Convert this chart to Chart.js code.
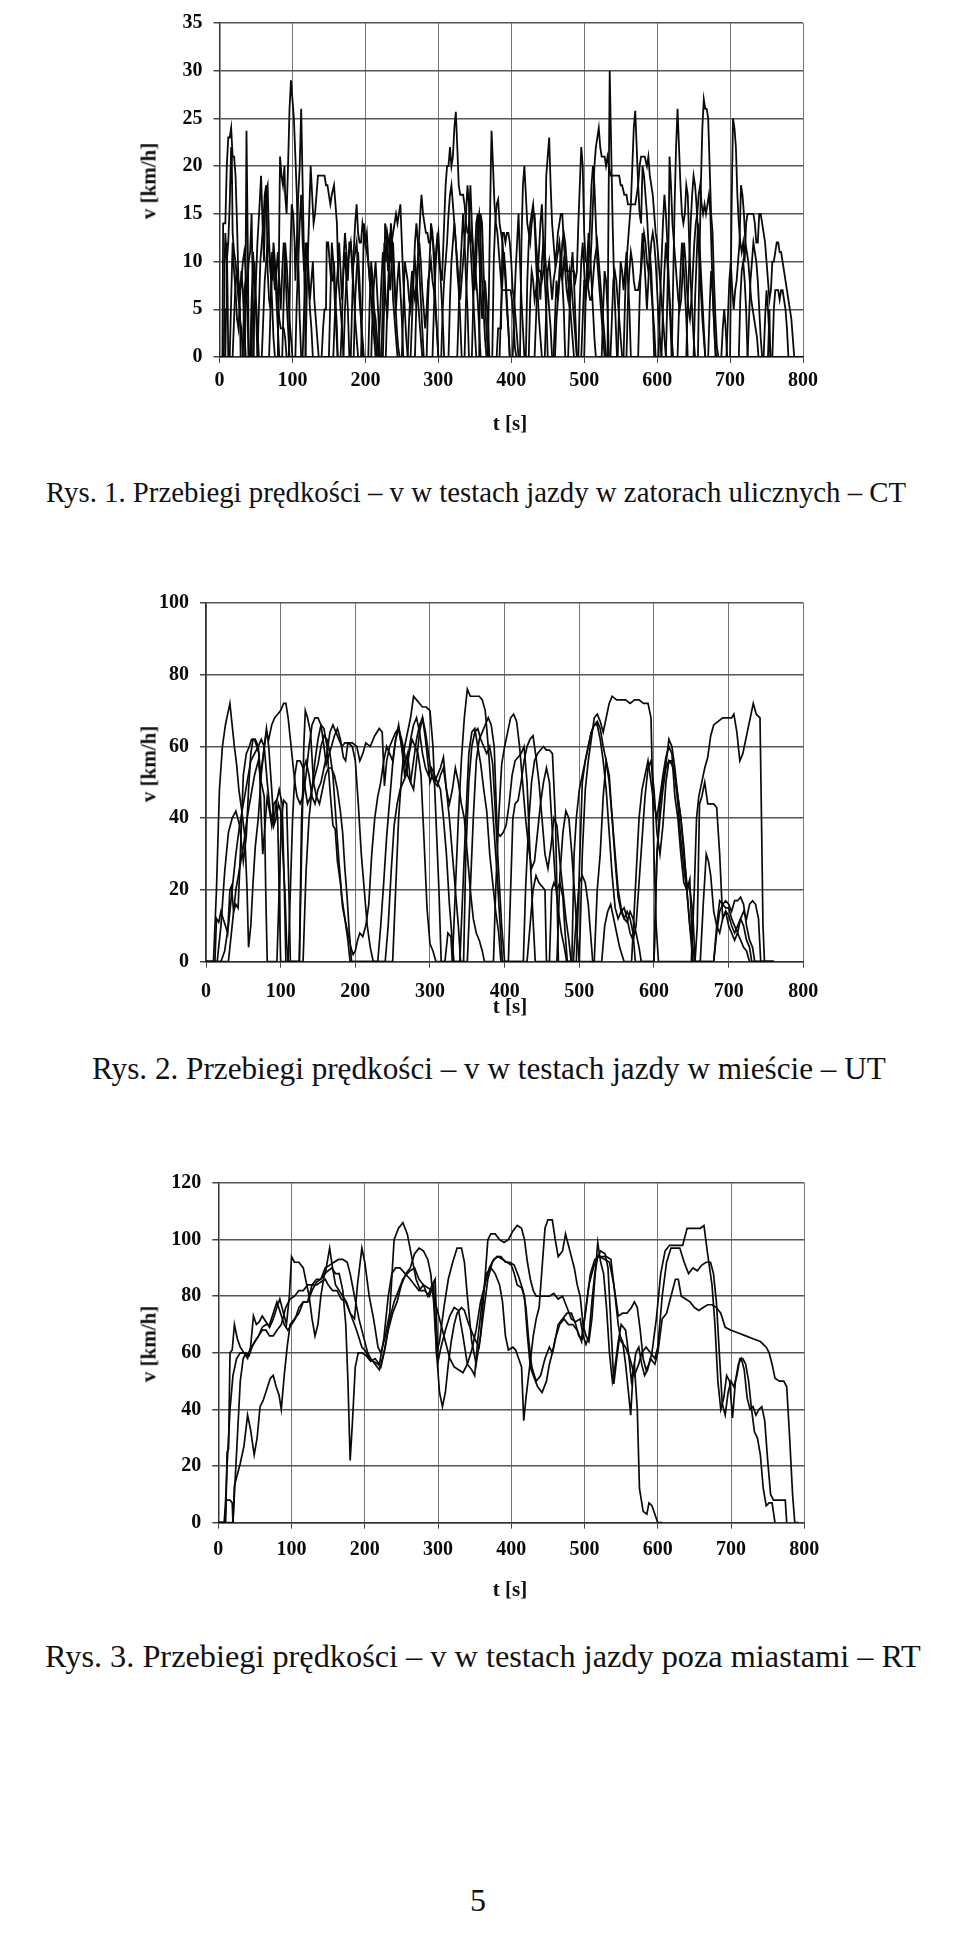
<!DOCTYPE html>
<html lang="pl">
<head>
<meta charset="utf-8">
<title>Przebiegi prędkości</title>
<script src="https://cdn.jsdelivr.net/npm/chart.js@4.4.1/dist/chart.umd.min.js"></script>
<style>
  html, body { margin: 0; padding: 0; background: #fff; }
  body {
    position: relative;
    width: 960px;
    height: 1946px;
    overflow: hidden;
    font-family: 'Liberation Serif', 'Times New Roman', serif;
    color: #111;
  }
  canvas { position: absolute; left: 0; }
  .title { position: absolute; white-space: nowrap; font-weight: bold; font-size: 21px; line-height: 1; }
  .ytitle { transform: translate(-50%, -50%) rotate(-90deg); }
  .xtitle { transform: translate(-50%, -50%); }
  .caption { position: absolute; white-space: nowrap; line-height: 1; transform: translateY(-50%); }
</style>
</head>
<body>
<canvas id="ct"></canvas>
<canvas id="ut"></canvas>
<canvas id="rt"></canvas>

<div class="title ytitle" style="left:149px; top:181px">v [km/h]</div>
<div class="title xtitle" style="left:510px; top:423px">t [s]</div>
<div class="caption" style="left:46px; top:492px; font-size:28.8px">Rys. 1. Przebiegi prędkości – v w testach jazdy w zatorach ulicznych – CT</div>

<div class="title ytitle" style="left:149px; top:764px">v [km/h]</div>
<div class="title xtitle" style="left:510px; top:1006px">t [s]</div>
<div class="caption" style="left:92px; top:1069px; font-size:31.2px">Rys. 2. Przebiegi prędkości – v w testach jazdy w mieście – UT</div>

<div class="title ytitle" style="left:149px; top:1344px">v [km/h]</div>
<div class="title xtitle" style="left:510px; top:1589px">t [s]</div>
<div class="caption" style="left:45px; top:1656px; font-size:32.3px">Rys. 3. Przebiegi prędkości – v w testach jazdy poza miastami – RT</div>

<div class="caption" style="left:470px; top:1900px; font-size:32px">5</div>

<script>
// czas [s], prędkość [km/h]

// Rys. 1 – zatory uliczne (CT)
const ctRun1 = [[0,0],[4,0],[5,14],[8,14],[10,20],[12,23],[14,23],[16,24],[18,21],[20,21],[22,19],[24,14],[26,8],[28,4],[30,3],[32,0],[35,0],[37,23.7],[39,10],[40,0],[46,0],[48,5],[50,8],[52,12],[55,16],[57,19],[59,14],[61,10],[63,17],[66,18],[68,12],[70,9],[72,6],[74,2],[76,0],[80,0],[82,14],[83,21],[85,19],[87,18],[89,20],[90,17],[92,15],[94,20],[96,26],[98,29],[100,27],[102,25],[104,21],[106,17],[108,10],[110,4],[112,0],[118,0],[120,8],[123,15],[125,20],[127,17],[129,14],[131,15],[133,17],[135,19],[138,19],[141,19],[144,19],[146,18],[148,18],[150,17],[152,16],[154,17],[157,18],[159,16],[161,14],[163,8],[166,5],[168,3],[170,0],[180,0],[182,6],[184,11],[186,14],[188,16],[190,13],[192,12],[194,12],[196,14],[198,13],[200,12],[202,11],[204,10],[206,8],[208,9],[210,6],[212,4],[214,2],[216,0],[222,0],[224,6],[226,12],[228,10],[230,13],[232,12],[234,10],[236,12],[238,13],[240,14],[242,15],[244,14],[246,15],[248,16],[250,12],[252,8],[254,5],[256,2],[258,0],[268,0],[270,6],[272,10],[274,13],[276,16],[277,17],[279,15],[281,14],[283,13],[285,13],[287,12],[289,12],[291,13],[293,12],[295,10],[297,11],[299,13],[301,10],[303,9],[305,8],[308,14],[310,18],[312,20],[314,20],[316,22],[318,20],[320,21],[322,24],[324,25.7],[326,22],[328,18],[330,17],[332,17],[334,17],[336,16],[338,14],[340,13],[342,13],[344,12],[346,13],[348,11],[350,10],[352,8],[354,6],[356,3],[358,0],[368,0],[370,10],[372,20],[373,23.7],[375,20],[377,16],[379,14],[381,13],[383,11],[385,9],[387,7],[390,7],[393,7],[396,7],[399,7],[401,6],[403,4],[405,1],[407,0],[412,0],[414,12],[416,18],[418,20],[420,17],[422,14],[424,13],[426,12],[428,14],[430,15],[432,15],[434,12],[436,10],[438,9],[440,9],[442,8],[444,9],[446,10],[448,19],[450,21],[452,23],[454,18],[456,14],[458,12],[460,10],[462,11],[464,13],[466,14],[468,15],[470,15],[472,12],[474,10],[476,9],[480,9],[484,9],[486,9],[488,8],[490,9],[492,14],[494,18],[496,22],[498,20],[500,13],[502,10],[504,10],[506,8],[508,9],[510,12],[512,16],[514,20],[516,22],[518,23],[520,24],[522,22],[524,21],[526,21],[528,21],[530,20],[532,21],[534,20],[536,19],[540,19],[544,19],[548,19],[550,18],[552,18],[555,17],[558,17],[560,16],[564,16],[568,16],[570,16],[572,17],[574,18],[576,20],[578,21],[580,21],[583,21],[586,20],[588,21],[590,19],[592,18],[594,17],[596,15],[598,13],[600,12],[602,10],[604,8],[606,6],[608,4],[610,2],[612,0],[620,0],[622,8],[624,16],[626,22],[628,26],[630,22],[632,18],[634,15],[636,14],[638,15],[640,18],[642,17],[644,12],[646,8],[648,5],[650,2],[652,0],[656,0],[658,10],[660,18],[662,24],[664,27],[666,26],[668,26],[670,25],[672,20],[674,15],[676,13],[678,8],[680,4],[682,1],[684,0],[700,0],[702,15],[704,25],[706,24],[708,22],[710,17],[712,14],[714,12],[716,11],[718,12],[720,10],[722,14],[724,15],[726,15],[730,15],[732,15],[734,14],[736,12],[738,12],[740,15],[742,15],[744,14],[746,13],[748,12],[750,10],[752,8],[754,6],[756,7],[758,10],[760,10],[762,11],[764,12],[766,12],[768,11],[770,11],[772,10],[774,9],[776,8],[778,7],[780,6],[782,5],[784,4],[786,2],[788,0],[800,0]]
const ctRun2 = [[0,0],[6,0],[7,10],[8,13],[10,10],[12,12],[14,16],[16,22],[17,20],[18,13],[20,11],[22,10],[24,8],[26,6],[28,5],[29,0],[32,0],[34,7],[36,8],[38,7],[40,10],[42,11],[44,15],[45,10],[46,5],[47,0],[52,0],[54,5],[56,10],[58,12],[60,14],[62,17],[64,18],[65,14],[66,9],[68,6],[70,5],[72,9],[74,10],[76,9],[78,8],[80,6],[82,4],[84,3],[86,3],[88,3],[90,2],[92,0],[95,0],[97,10],[99,16],[101,15],[103,12],[104,8],[106,12],[108,17],[110,20],[112,26],[114,18],[116,10],[117,5],[118,0],[140,0],[142,3],[144,5],[146,5],[147,12],[149,12],[151,10],[153,8],[155,8],[157,10],[159,6],[161,3],[162,0],[166,0],[168,4],[170,10],[172,13],[174,11],[176,8],[178,12],[180,12],[182,9],[184,10],[186,11],[188,12],[190,9],[192,6],[194,4],[196,2],[198,0],[204,0],[206,6],[208,10],[210,8],[212,5],[214,4],[216,2],[218,0],[224,0],[226,6],[227,14],[229,13],[231,9],[233,11],[235,14],[237,12],[239,9],[241,6],[243,3],[245,1],[247,0],[258,0],[260,4],[262,7],[264,9],[266,7],[268,6],[270,8],[272,10],[274,12],[276,10],[278,7],[280,5],[282,3],[284,5],[286,8],[288,9],[290,10],[292,8],[294,7],[296,5],[298,3],[300,0],[304,0],[306,5],[308,8],[310,10],[312,12],[314,15],[316,17],[318,18],[320,16],[322,14],[324,12],[326,10],[328,8],[330,6],[332,8],[334,10],[336,12],[338,15],[340,18],[342,16],[344,12],[346,9],[348,6],[350,3],[352,0],[356,0],[358,15],[360,14],[362,9],[364,6],[366,3],[368,0],[374,0],[376,10],[378,14],[380,16],[382,16.5],[384,14],[386,13],[388,12],[390,10],[392,8],[394,5],[396,3],[398,0],[420,0],[422,8],[424,12],[426,14],[428,15],[430,16],[432,14],[434,10],[436,7],[438,4],[440,2],[442,0],[446,0],[448,5],[450,9],[452,10],[454,8],[456,6],[458,8],[460,9],[462,10],[464,11],[466,12],[468,10],[470,8],[472,10],[474,9],[476,7],[478,6],[480,9],[482,8],[484,6],[486,4],[488,2],[490,0],[496,0],[498,4],[500,8],[504,8],[506,7],[508,6],[510,6],[512,8],[514,10],[516,11],[518,12],[520,10],[522,8],[524,6],[526,4],[528,2],[530,0],[536,0],[538,4],[540,8],[542,9],[544,8],[546,6],[548,4],[550,2],[552,0],[558,0],[560,6],[562,9],[564,11],[566,10],[568,8],[570,7],[574,7],[576,8],[578,9],[580,11],[582,13],[584,12],[586,10],[588,9],[590,10],[592,12],[594,13],[596,12],[598,10],[600,7],[602,4],[604,2],[606,0],[612,0],[614,6],[616,14],[617,21],[619,18],[621,14],[623,12],[625,10],[627,8],[629,6],[631,5],[633,6],[635,9],[637,12],[639,10],[641,7],[643,5],[645,4],[647,6],[649,9],[651,12],[653,14],[655,15],[657,17],[659,18],[661,16],[663,15],[665,16],[667,15],[669,16],[671,17],[673,15],[675,10],[677,5],[679,2],[681,0],[695,0],[697,4],[699,8],[701,10],[703,7],[705,5],[707,7],[709,8],[711,10],[713,12],[715,18],[717,17],[719,15],[721,12],[723,11],[725,10],[727,8],[729,6],[731,5],[733,4],[735,3],[737,2],[739,0],[752,0],[754,5],[755,0],[758,0],[760,5],[762,7],[766,7],[768,6],[770,7],[772,7],[774,6],[776,5],[778,3],[780,0],[800,0]]
const ctRun3 = [[0,0],[8,0],[9,5],[10,12],[11,7],[12,0],[18,0],[20,4],[22,8],[24,9],[26,8],[28,7],[30,8],[32,10],[34,11],[36,9],[38,5],[40,0],[42,0],[44,6],[46,9],[48,10],[50,6],[52,3],[54,0],[58,0],[60,4],[62,8],[64,10],[66,12],[68,11],[70,9],[72,8],[74,12],[76,10],[78,6],[80,3],[82,0],[86,0],[88,6],[90,12],[92,10],[94,7],[96,4],[98,2],[100,0],[104,0],[106,6],[108,10],[110,14],[112,17],[114,12],[116,9],[118,12],[120,10],[122,8],[124,6],[126,8],[128,10],[130,6],[132,4],[134,2],[136,0],[150,0],[152,6],[154,12],[156,10],[158,6],[160,3],[162,0],[170,0],[172,5],[174,8],[176,10],[178,11],[180,12],[182,10],[184,7],[186,4],[188,2],[190,0],[194,0],[196,6],[198,14],[200,12],[202,13],[204,10],[206,8],[208,6],[210,4],[212,2],[214,0],[218,0],[220,4],[222,8],[224,11],[226,9],[228,6],[230,4],[232,8],[234,13],[236,10],[238,6],[240,4],[242,2],[244,0],[250,0],[252,5],[254,10],[256,9],[258,8],[260,6],[262,5],[264,7],[266,9],[268,10],[270,8],[272,6],[274,4],[276,2],[278,0],[284,0],[286,6],[288,10],[290,14],[292,13],[294,10],[296,6],[298,3],[300,0],[314,0],[316,6],[318,10],[320,12],[322,14],[324,12],[326,9],[328,7],[330,4],[332,0],[336,0],[338,6],[340,10],[342,14],[344,18],[346,14],[348,10],[350,7],[352,10],[354,14],[356,15],[358,12],[360,8],[362,5],[364,2],[366,0],[380,0],[382,3],[386,3],[388,13],[390,13],[392,12],[394,13],[396,13],[398,12],[400,10],[402,7],[404,6],[406,4],[408,2],[410,0],[424,0],[426,6],[428,9],[430,8],[432,6],[434,7],[436,9],[438,8],[440,6],[442,10],[444,12],[446,11],[448,9],[450,7],[452,5],[454,3],[456,0],[460,0],[462,4],[464,6],[466,8],[468,9],[470,12],[472,13],[474,12],[476,10],[478,8],[480,6],[482,4],[484,2],[486,0],[492,0],[494,6],[496,10],[498,12],[500,9],[502,6],[504,8],[506,10],[508,14],[510,18],[512,20],[514,18],[516,14],[518,10],[520,8],[522,6],[524,4],[526,2],[528,0],[532,0],[533,12],[535,30],[537,22],[539,14],[541,8],[543,4],[545,0],[554,0],[556,6],[558,10],[560,12],[562,14],[564,16],[566,20],[568,24],[570,25.8],[572,22],[574,18],[576,15],[578,14],[580,20],[582,19],[584,17],[586,15],[588,12],[590,10],[592,7],[594,5],[596,3],[598,0],[602,0],[604,6],[606,10],[608,14],[610,17],[612,15],[614,12],[616,8],[618,5],[620,2],[622,0],[640,0],[642,6],[644,10],[646,14],[648,17],[650,19],[652,18],[654,16],[656,13],[658,10],[660,7],[662,4],[664,2],[666,0],[688,0],[690,3],[692,5],[694,3],[696,0],[724,0],[726,4],[728,8],[730,10],[732,12],[734,11],[736,10],[738,8],[740,5],[742,2],[744,0],[760,0]]
const ctRun4 = [[0,0],[14,0],[16,6],[18,12],[20,9],[22,7],[24,4],[26,3],[28,6],[30,9],[32,7],[34,3],[36,0],[44,0],[46,11],[48,8],[50,5],[52,0],[68,0],[70,5],[72,11],[74,9],[76,7],[78,9],[80,11],[82,8],[84,5],[86,9],[88,12],[90,10],[92,6],[94,3],[96,0],[114,0],[116,5],[118,9],[120,12],[122,9],[124,5],[126,3],[128,0],[156,0],[158,4],[160,7],[162,9],[164,12],[166,9],[168,6],[170,9],[172,11],[174,8],[176,5],[178,0],[184,0],[186,6],[188,9],[190,11],[192,8],[194,4],[196,0],[208,0],[210,5],[212,8],[214,10],[216,7],[218,4],[220,0],[228,0],[230,5],[232,9],[234,7],[236,10],[238,12],[240,8],[242,5],[244,8],[246,10],[248,7],[250,4],[252,0],[262,0],[264,4],[266,8],[268,12],[270,14],[272,12],[274,9],[276,6],[278,3],[280,0],[292,0],[294,5],[296,9],[298,12],[300,13],[302,10],[304,7],[306,4],[308,0],[326,0],[328,5],[330,9],[332,12],[334,15],[336,12],[338,8],[340,5],[342,0],[346,0],[348,6],[350,10],[352,14],[354,15],[356,11],[358,7],[360,4],[362,6],[364,8],[366,6],[368,4],[370,0],[384,0],[386,5],[388,8],[390,11],[392,9],[394,6],[396,3],[398,0],[402,0],[404,5],[406,9],[408,12],[410,15],[412,10],[414,6],[416,3],[418,0],[432,0],[434,4],[436,8],[438,11],[440,14],[442,16],[444,12],[446,8],[448,5],[450,0],[458,0],[460,4],[462,8],[464,6],[466,9],[468,11],[470,8],[472,5],[474,0],[478,0],[480,5],[482,9],[484,11],[486,8],[488,4],[490,0],[500,0],[502,6],[504,10],[506,13],[508,11],[510,8],[512,5],[514,2],[516,0],[524,0],[526,5],[528,9],[530,8],[532,5],[534,0],[546,0],[548,6],[550,10],[552,9],[554,7],[556,9],[558,11],[560,8],[562,5],[564,0],[574,0],[576,6],[578,10],[580,13],[582,11],[584,8],[586,5],[588,8],[590,11],[592,9],[594,5],[596,0],[606,0],[608,5],[610,9],[612,12],[614,10],[616,7],[618,4],[620,0],[628,0],[630,5],[632,9],[634,12],[636,10],[638,7],[640,4],[642,0],[650,0],[652,6],[654,10],[656,14],[658,12],[660,9],[662,6],[664,3],[666,0],[670,0],[672,5],[674,9],[676,7],[678,4],[680,0],[712,0],[714,6],[716,9],[718,10],[720,8],[722,5],[724,0],[746,0],[748,4],[750,7],[752,5],[754,2],[756,0],[800,0]]

// Rys. 2 – jazda w mieście (UT)
const utRun1 = [[0,0],[10,0],[14,20],[18,48],[22,60],[26,66],[30,70],[32,72],[35,66],[38,60],[41,55],[44,48],[48,42],[52,35],[55,20],[57,4],[60,10],[63,22],[66,32],[70,40],[74,52],[78,60],[81,64],[84,62],[88,66],[92,68],[96,69],[100,70],[104,72],[107,72],[110,68],[113,62],[116,56],[119,50],[122,46],[126,44],[130,46],[134,52],[138,60],[142,66],[146,68],[150,68],[154,66],[158,60],[161,55],[165,58],[168,60],[172,63],[176,65],[180,62],[184,57],[187,56],[190,61],[196,61],[202,60],[206,56],[210,58],[214,61],[220,60],[226,63],[232,65],[236,64],[239,49],[242,56],[246,60],[250,62],[254,64],[258,65],[262,60],[266,55],[270,58],[274,50],[278,48],[282,56],[286,64],[290,68],[294,62],[298,54],[300,50],[303,52],[306,50],[310,49],[314,52],[318,54],[322,48],[326,40],[330,30],[334,20],[338,10],[341,0],[350,0],[354,20],[358,40],[362,56],[366,62],[370,64],[374,66],[378,68],[382,66],[386,60],[390,36],[394,35],[398,36],[402,38],[406,44],[410,52],[414,56],[418,57],[422,58],[426,60],[430,50],[434,30],[438,12],[441,0],[460,0],[463,20],[466,22],[470,20],[474,22],[478,18],[481,8],[484,0],[490,0],[493,30],[496,40],[500,48],[504,52],[508,56],[512,60],[516,64],[520,66],[524,67],[528,65],[532,60],[536,56],[540,50],[544,40],[548,30],[552,20],[556,15],[560,12],[564,11],[568,14],[572,12],[576,8],[580,4],[583,0],[600,0],[604,30],[608,40],[612,48],[616,54],[620,56],[624,56],[628,52],[632,46],[636,40],[640,30],[644,22],[648,20],[652,14],[655,0],[658,10],[661,44],[664,46],[668,50],[672,44],[676,44],[680,44],[684,43],[688,30],[692,12],[696,14],[700,13],[704,10],[708,8],[712,10],[716,12],[720,10],[724,6],[728,4],[731,0],[760,0]]
const utRun2 = [[0,0],[12,0],[14,12],[17,11],[20,14],[23,12],[26,10],[29,8],[32,20],[34,21],[37,14],[40,16],[43,15],[46,30],[50,52],[54,58],[58,60],[61,62],[65,62],[68,60],[71,58],[74,40],[76,30],[79,38],[82,46],[85,42],[88,38],[91,44],[94,45],[96,40],[98,20],[100,0],[110,0],[113,20],[116,40],[119,52],[122,56],[126,56],[130,54],[133,48],[136,44],[140,46],[143,50],[146,56],[150,62],[154,66],[158,65],[162,60],[166,48],[170,38],[173,37],[176,28],[180,22],[183,15],[186,12],[190,8],[194,4],[197,2],[200,3],[203,6],[206,8],[210,7],[214,10],[218,16],[222,30],[226,40],[230,46],[234,50],[238,56],[242,60],[246,58],[250,56],[254,62],[258,65],[262,62],[266,58],[270,52],[274,50],[278,56],[282,62],[286,66],[290,68],[294,64],[298,58],[302,52],[306,50],[310,52],[314,54],[318,57],[322,48],[326,44],[330,48],[334,54],[338,50],[342,44],[346,40],[350,30],[354,20],[358,12],[362,8],[366,6],[370,3],[373,0],[385,0],[388,20],[392,40],[396,55],[400,60],[404,64],[408,68],[412,69],[416,67],[420,60],[424,50],[428,40],[432,32],[436,26],[440,28],[444,36],[448,44],[452,50],[456,54],[460,50],[464,36],[468,22],[472,14],[476,8],[480,4],[483,0],[492,0],[496,12],[500,22],[504,24],[508,22],[512,16],[515,8],[518,0],[530,0],[534,10],[538,14],[542,16],[546,12],[550,8],[554,4],[557,2],[560,0],[570,0],[575,20],[580,40],[584,48],[588,52],[592,56],[596,50],[600,44],[604,40],[608,46],[612,52],[616,57],[620,60],[624,58],[628,46],[632,40],[636,30],[640,22],[644,20],[648,10],[652,0],[662,0],[666,16],[670,30],[673,28],[676,24],[680,14],[684,10],[688,8],[692,12],[696,14],[700,10],[704,8],[708,6],[712,8],[716,6],[720,4],[724,3],[728,0],[760,0]]
const utRun3 = [[0,0],[15,0],[20,10],[25,25],[30,36],[35,40],[40,42],[45,38],[50,28],[54,35],[57,48],[60,58],[63,62],[66,62],[70,60],[73,52],[77,58],[81,65],[84,60],[88,48],[91,38],[94,40],[97,44],[100,42],[103,30],[106,18],[108,5],[110,0],[125,0],[128,30],[131,60],[133,70],[136,68],[140,64],[144,50],[148,46],[152,44],[156,48],[160,52],[164,54],[168,54],[172,52],[176,48],[180,42],[183,36],[186,26],[189,18],[192,8],[195,0],[240,0],[244,10],[248,25],[252,38],[256,44],[260,48],[264,50],[268,52],[272,58],[276,62],[280,60],[284,58],[288,52],[292,34],[296,15],[300,5],[304,3],[308,0],[320,0],[324,8],[328,7],[330,0],[345,0],[348,30],[352,50],[356,60],[360,64],[364,65],[368,62],[372,60],[376,58],[380,60],[384,55],[388,40],[392,25],[396,10],[400,0],[430,0],[434,10],[438,20],[442,24],[446,22],[450,21],[454,20],[456,0],[470,0],[474,24],[478,36],[482,42],[486,40],[490,30],[494,18],[497,8],[500,0],[520,0],[524,20],[528,30],[532,46],[536,56],[540,52],[544,40],[548,28],[552,18],[556,14],[560,12],[564,14],[568,12],[572,8],[575,0],[600,0],[604,30],[608,44],[612,50],[616,55],[620,62],[624,60],[628,54],[632,46],[636,40],[640,32],[644,20],[648,10],[652,4],[655,0],[680,0],[684,8],[688,14],[692,16],[696,15],[700,15],[704,12],[708,10],[712,8],[716,12],[720,14],[724,12],[728,16],[732,17],[736,16],[740,12],[743,0],[760,0]]
const utRun4 = [[0,0],[20,0],[25,3],[30,10],[35,20],[40,30],[45,38],[50,44],[55,50],[60,56],[65,58],[70,60],[74,62],[78,60],[82,50],[86,42],[90,38],[94,44],[98,48],[102,44],[105,20],[107,0],[130,0],[134,25],[138,40],[142,48],[146,52],[150,55],[154,60],[158,63],[162,62],[166,58],[170,52],[174,40],[178,28],[182,18],[186,12],[190,6],[193,0],[230,0],[234,10],[238,22],[242,35],[246,45],[250,55],[254,62],[258,66],[262,60],[266,52],[270,56],[274,62],[278,66],[282,68],[286,64],[290,58],[294,54],[298,52],[302,54],[306,52],[310,50],[314,48],[318,40],[322,30],[326,16],[329,8],[332,0],[340,0],[344,20],[348,40],[352,58],[356,64],[360,65],[364,60],[368,55],[372,48],[376,42],[380,30],[384,22],[388,14],[392,8],[395,0],[405,0],[408,20],[411,40],[414,44],[418,45],[422,50],[426,56],[430,60],[434,62],[438,63],[442,57],[446,50],[450,40],[454,30],[458,26],[462,32],[466,40],[470,38],[474,28],[478,20],[482,12],[486,6],[489,0],[496,0],[500,25],[504,50],[508,56],[512,60],[516,64],[520,66],[524,66],[528,62],[532,56],[536,48],[540,36],[544,24],[548,15],[552,12],[556,14],[560,15],[564,12],[568,8],[572,6],[576,10],[580,22],[584,34],[588,46],[592,54],[596,56],[600,48],[604,36],[608,30],[612,38],[616,50],[620,56],[624,55],[628,52],[632,44],[636,34],[640,26],[644,20],[648,23],[650,12],[652,0],[680,0],[684,10],[688,17],[692,16],[696,17],[700,16],[704,14],[708,17],[712,17],[716,18],[720,16],[724,10],[728,6],[732,4],[735,0],[760,0]]
const utRun5 = [[0,0],[30,0],[35,10],[40,20],[45,26],[50,32],[55,40],[60,46],[65,52],[70,56],[74,50],[78,46],[80,20],[82,0],[95,0],[98,20],[101,40],[104,45],[108,44],[111,20],[113,0],[125,0],[128,40],[131,54],[134,56],[138,52],[142,46],[146,44],[150,48],[154,50],[158,54],[162,58],[166,64],[170,66],[174,64],[178,62],[182,60],[186,61],[190,61],[196,60],[200,56],[204,44],[208,30],[212,20],[216,10],[220,4],[224,0],[250,0],[254,20],[258,40],[262,52],[266,60],[270,64],[274,68],[278,74],[282,73],[286,72],[290,71],[295,71],[300,70],[304,60],[308,40],[312,20],[315,0],[330,0],[334,20],[338,40],[342,56],[346,68],[350,76],[354,74],[360,74],[366,74],[370,73],[374,70],[378,60],[382,48],[386,36],[390,24],[394,10],[397,0],[425,0],[428,20],[432,38],[436,50],[440,56],[444,58],[448,59],[452,60],[456,59],[460,59],[464,58],[468,40],[470,20],[472,0],[500,0],[504,30],[508,48],[512,56],[516,62],[520,68],[524,69],[528,67],[532,64],[536,68],[540,72],[544,74],[550,73],[556,73],[562,73],[568,72],[574,73],[580,73],[586,72],[592,72],[596,68],[598,50],[600,30],[603,10],[606,0],[650,0],[654,20],[657,40],[660,46],[664,50],[668,54],[672,57],[676,63],[680,66],[686,67],[692,68],[699,68],[704,68],[707,69],[711,64],[715,56],[719,58],[726,65],[733,72],[737,69],[742,68],[744,40],[746,10],[748,0],[762,0]]

// Rys. 3 – jazda poza miastami (RT)
const rtRun1 = [[0,0],[10,0],[12,25],[14,26],[16,60],[19,61],[22,70],[26,65],[30,62],[35,60],[40,58],[44,62],[48,73],[52,70],[56,71],[60,73],[65,71],[70,69],[75,72],[80,76],[84,79],[88,75],[93,70],[97,80],[100,94],[104,92],[110,92],[116,90],[120,85],[124,80],[128,72],[132,66],[136,70],[140,80],[145,88],[150,89],[155,90],[160,88],[165,88],[170,82],[174,70],[177,50],[180,22],[183,35],[187,55],[191,60],[196,60],[202,59],[208,57],[214,58],[220,56],[226,65],[232,80],[237,88],[242,90],[248,90],[255,88],[262,86],[268,84],[274,82],[280,84],[286,80],[292,84],[296,86],[300,57],[304,62],[310,68],[316,73],[322,76],[328,75],[334,66],[340,56],[346,54],[350,52],[354,64],[360,78],[366,88],[372,90],[378,88],[384,84],[388,78],[392,66],[396,61],[402,62],[406,61],[410,58],[414,55],[417,36],[420,44],[425,55],[430,66],[434,72],[438,76],[442,90],[446,104],[450,107],[456,107],[460,100],[464,94],[470,96],[474,102],[478,98],[482,94],[486,90],[490,84],[494,80],[498,70],[502,66],[506,64],[510,72],[514,86],[518,99],[522,92],[526,88],[530,76],[534,60],[538,50],[542,56],[546,64],[550,70],[556,68],[560,60],[564,50],[568,56],[572,40],[575,12],[580,4],[585,3],[588,7],[592,6],[596,3],[600,0],[606,0]]
const rtRun2 = [[0,0],[20,0],[22,13],[26,17],[30,21],[35,27],[40,38],[44,33],[49,24],[53,30],[57,41],[61,43],[66,47],[71,51],[75,52],[79,48],[83,45],[86,40],[90,52],[94,62],[98,70],[104,72],[110,74],[116,78],[122,78],[128,82],[134,85],[140,86],[146,90],[152,91],[158,92],[164,93],[170,93],[176,92],[180,88],[186,80],[192,72],[198,66],[204,60],[208,58],[214,56],[220,54],[226,60],[232,68],[238,74],[244,78],[250,84],[256,88],[262,90],[268,95],[274,97],[280,96],[286,93],[290,88],[294,78],[298,60],[302,46],[306,41],[310,46],[314,56],[318,64],[322,70],[326,74],[332,76],[336,75],[342,70],[350,65],[356,62],[362,74],[368,86],[374,92],[380,94],[386,94],[392,92],[398,92],[404,91],[410,87],[416,82],[420,76],[424,64],[428,55],[434,50],[440,52],[446,58],[452,62],[456,60],[460,65],[466,70],[472,72],[478,70],[484,70],[490,68],[496,64],[502,76],[508,88],[514,93],[520,94],[528,93],[534,92],[540,84],[546,70],[550,64],[556,62],[562,58],[568,52],[574,56],[578,60],[584,62],[590,60],[596,58],[600,62],[606,80],[612,92],[618,97],[624,97],[630,97],[636,92],[642,88],[648,90],[654,89],[660,91],[666,92],[672,92],[676,88],[680,78],[684,60],[688,42],[692,38],[696,46],[700,50],[704,48],[708,52],[712,58],[716,58],[720,56],[724,50],[728,40],[732,32],[736,30],[740,24],[744,12],[748,6],[752,7],[756,7],[760,0]]
const rtRun3 = [[0,0],[9,0],[11,8],[16,8],[19,7],[20,0],[22,10],[26,30],[30,50],[34,58],[38,60],[42,59],[46,62],[50,64],[55,66],[60,68],[65,68],[70,66],[75,66],[80,68],[86,70],[92,76],[98,79],[104,80],[110,82],[116,82],[122,84],[128,84],[134,84],[140,85],[146,86],[150,84],[156,82],[162,82],[168,79],[174,78],[180,74],[186,70],[190,67],[196,62],[200,61],[206,58],[212,57],[218,56],[222,55],[228,62],[234,72],[240,78],[246,82],[252,86],[258,88],[262,89],[268,90],[274,86],[280,84],[286,83],[292,82],[298,76],[304,70],[310,64],[316,58],[322,55],[328,54],[334,53],[340,56],[346,61],[352,68],[358,78],[364,84],[370,90],[376,93],[382,94],[388,93],[394,92],[400,91],[404,88],[408,84],[414,83],[418,80],[422,66],[426,55],[430,52],[436,48],[442,46],[448,50],[452,56],[458,62],[464,70],[470,72],[476,74],[482,74],[488,70],[492,66],[496,65],[500,72],[506,84],[512,90],[518,94],[524,94],[530,94],[536,93],[540,84],[546,73],[552,74],[558,74],[564,76],[568,78],[572,76],[576,68],[580,58],[584,54],[588,56],[592,60],[598,72],[604,88],[610,96],[616,98],[622,98],[628,98],[634,98],[640,104],[646,104],[652,104],[658,104],[663,105],[668,95],[674,84],[678,70],[682,50],[686,40],[690,44],[694,52],[698,50],[702,37],[706,50],[710,56],[714,58],[718,54],[722,44],[726,40],[730,41],[734,38],[738,40],[742,41],[746,36],[750,22],[754,10],[758,8],[766,8],[774,8],[776,0]]
const rtRun4 = [[0,0],[8,0],[10,8],[12,20],[16,40],[20,52],[25,58],[30,60],[35,60],[40,59],[45,62],[50,64],[55,66],[60,69],[65,70],[70,70],[75,74],[80,78],[85,74],[90,70],[95,68],[100,70],[105,72],[110,76],[116,78],[122,78],[128,84],[134,86],[140,86],[146,88],[152,97],[156,90],[160,84],[165,82],[170,80],[175,78],[180,74],[186,72],[190,84],[196,97],[200,92],[206,80],[212,72],[218,62],[222,60],[228,66],[234,74],[240,100],[246,104],[252,106],[258,102],[264,94],[270,86],[276,82],[282,82],[288,80],[294,84],[298,60],[302,64],[308,76],[314,86],[320,92],[326,97],[332,97],[336,92],[340,80],[346,64],[352,56],[358,66],[364,86],[368,100],[372,102],[378,102],[384,100],[390,99],[396,100],[402,103],[408,105],[414,104],[418,100],[422,92],[426,86],[430,82],[434,80],[438,80],[446,80],[452,80],[458,81],[464,79],[470,80],[476,76],[482,72],[488,71],[494,72],[498,66],[502,63],[506,66],[510,78],[514,88],[518,94],[522,96],[528,95],[532,90],[536,70],[540,49],[544,58],[548,66],[552,64],[556,56],[560,46],[563,38],[566,52],[570,60],[574,62],[578,56],[582,52],[586,54],[590,58],[596,56],[600,60],[606,72],[612,74],[618,80],[624,86],[628,86],[632,80],[638,79],[644,78],[650,76],[656,75],[662,76],[668,77],[674,77],[680,76],[686,74],[692,69],[700,68],[710,67],[720,66],[730,65],[740,64],[748,62],[752,60],[756,56],[760,51],[766,50],[772,50],[776,48],[780,30],[784,10],[787,0],[792,0]]

const tMax = 800
const tStep = 100

const pageWidth = 960
const inkColor = '#0a0a0a'
const tickFont = { family: "'Liberation Serif', 'Times New Roman', serif", size: 20, weight: 'bold' }

const toPoints = (pairs) => pairs.map(([t, v]) => ({ x: t, y: v }))

const buildChart = (canvasId, { box, area, yMax, yStep, runs, xTickPad, lineWidth }) => {
  const canvas = document.getElementById(canvasId)
  if (!canvas) return null
  canvas.width = pageWidth
  canvas.height = box.height
  canvas.style.top = `${box.top}px`
  canvas.style.width = `${pageWidth}px`
  canvas.style.height = `${box.height}px`

  return new Chart(canvas.getContext('2d'), {
    type: 'line',
    data: {
      datasets: runs.map((pairs) => ({
        data: toPoints(pairs),
        borderColor: inkColor,
        borderWidth: lineWidth,
        pointRadius: 0,
        tension: 0,
        fill: false,
      })),
    },
    options: {
      responsive: false,
      animation: false,
      devicePixelRatio: 1,
      layout: {
        padding: { top: area.top - box.top, right: pageWidth - area.right, bottom: 0, left: 0 },
      },
      plugins: {
        legend: { display: false },
        tooltip: { enabled: false },
      },
      scales: {
        x: {
          type: 'linear',
          min: 0,
          max: tMax,
          afterFit: (scale) => {
            scale.height = box.top + box.height - area.bottom
          },
          ticks: { stepSize: tStep, padding: xTickPad, font: tickFont, color: inkColor, maxRotation: 0 },
          grid: { color: '#777', lineWidth: 1, tickLength: 6, tickColor: '#444' },
          border: { color: '#333', width: 1.5 },
        },
        y: {
          type: 'linear',
          min: 0,
          max: yMax,
          afterFit: (scale) => {
            scale.width = area.left
          },
          ticks: { stepSize: yStep, padding: 11, font: tickFont, color: inkColor },
          grid: { color: '#555', lineWidth: 1.5, tickLength: 6, tickColor: '#444' },
          border: { color: '#333', width: 1.5 },
        },
      },
    },
  })
}

buildChart('ct', {
  box: { top: 0, height: 420 },
  area: { left: 219.5, right: 803, top: 10.7, bottom: 357 },
  yMax: 35,
  yStep: 5,
  runs: [ctRun1, ctRun2, ctRun3, ctRun4],
  xTickPad: 6,
  lineWidth: 1.8,
})

buildChart('ut', {
  box: { top: 580, height: 440 },
  area: { left: 206, right: 803.3, top: 595.7, bottom: 961.7 },
  yMax: 100,
  yStep: 20,
  runs: [utRun1, utRun2, utRun3, utRun4, utRun5],
  xTickPad: 12,
  lineWidth: 1.7,
})

buildChart('rt', {
  box: { top: 1160, height: 420 },
  area: { left: 218.3, right: 804.3, top: 1175, bottom: 1522.7 },
  yMax: 120,
  yStep: 20,
  runs: [rtRun1, rtRun2, rtRun3, rtRun4],
  xTickPad: 9,
  lineWidth: 1.7,
})
</script>
</body>
</html>
